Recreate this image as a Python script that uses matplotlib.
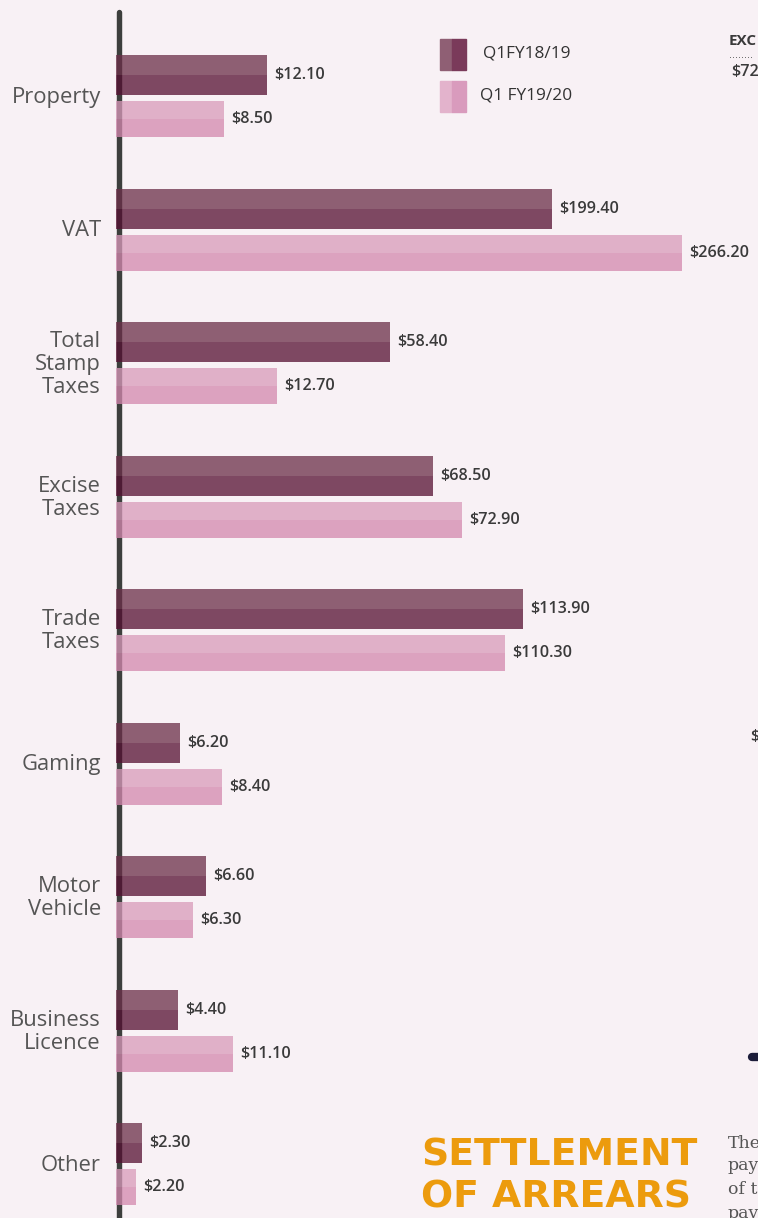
import numpy as np
import matplotlib
matplotlib.use("Agg")
import matplotlib.pyplot as plt
from matplotlib.patches import Rectangle

# data
categories = ["Property", "VAT", "Total\nStamp\nTaxes", "Excise\nTaxes", "Trade\nTaxes",
              "Gaming", "Motor\nVehicle", "Business\nLicence", "Other"]
q1_1819 = [12.10, 199.40, 58.40, 68.50, 113.90, 6.20, 6.60, 4.40, 2.30]
q1_1920 = [8.50, 266.20, 12.70, 72.90, 110.30, 8.40, 6.30, 11.10, 2.20]
series_labels = ["Q1FY18/19", "Q1 FY19/20"]

# the infographic does not draw bars to a linear scale; this is its display scale
scale_val = [-1000, 0, 2.2, 2.3, 4.4, 6.2, 6.3, 6.6, 8.4, 8.5, 11.1, 12.1, 12.7,
             58.4, 68.5, 72.9, 110.3, 113.9, 199.4, 266.2, 1000]
scale_px = [-1000, 0, 20, 26, 62, 64, 77, 90, 106, 108, 117, 151, 161,
            274, 317, 346, 389, 407, 436, 566, 1299.8]

BG = "#f8f1f5"
W, H = 758, 1218


def fwd(v):
    return np.interp(v, scale_val, scale_px)


def inv(p):
    return np.interp(p, scale_px, scale_val)


def fx(x):
    return x / W


def fy(y):
    return 1 - y / H


fig = plt.figure(figsize=(W / 100, H / 100), dpi=100)
fig.patch.set_facecolor(BG)
ax = fig.add_axes([0, 0, 1, 1])
ax.set_facecolor(BG)
ax.set_xscale("function", functions=(fwd, inv))
ax.set_xlim(inv(-116), inv(W - 116))

pitch = 133.5
top = 75.4
ax.set_ylim((H - top) / pitch, -top / pitch)
ax.axis("off")

# axis line behind the bars
ax.plot([fx(119.3), fx(119.3)], [fy(12), -0.01], transform=ax.transAxes,
        color="#3d3f3d", lw=3.9, solid_capstyle="round", zorder=1)

y = np.arange(len(categories))
h_dark = 40 / pitch
h_light = 36 / pitch
off_light = 44 / pitch

dark_cols = ("#6b2e48", "#551031")
light_cols = ("#d99aba", "#d388ae")

for vals, yc, hh, cols in [(q1_1819, y, h_dark, dark_cols),
                           (q1_1920, y + off_light, h_light, light_cols)]:
    ax.barh(yc - hh / 4, vals, height=hh / 2, left=0, color=cols[0], alpha=0.75,
            linewidth=0, zorder=2)
    ax.barh(yc + hh / 4, vals, height=hh / 2, left=0, color=cols[1], alpha=0.75,
            linewidth=0, zorder=2)
    for v, yy in zip(vals, yc):
        ax.annotate(f"${v:.2f}", xy=(v, yy), xytext=(7, 0), textcoords="offset pixels",
                    va="center", ha="left", fontsize=11.6, fontweight="semibold",
                    family="Open Sans", color="#3a3a3a")

for lab, yy in zip(categories, y + off_light / 2):
    ax.annotate(lab, xy=(0, yy), xytext=(-15, 0), textcoords="offset pixels",
                va="center", ha="right", multialignment="right", fontsize=15.8,
                family="Open Sans", color="#555555", linespacing=1.13)

# legend
leg = [((440, 39), "#8f5f74", "#7a3a5a", (483, 54)),
       ((440, 81), "#e3b3cc", "#d99bbd", (480, 96))]
for (lx, ly), c1, c2, (tx, ty) in leg:
    fig.add_artist(Rectangle((fx(lx), fy(ly + 31)), 12 / W, 31 / H, color=c1,
                             transform=fig.transFigure))
    fig.add_artist(Rectangle((fx(lx + 12), fy(ly + 31)), 14 / W, 31 / H, color=c2,
                             transform=fig.transFigure))
for (pos, c1, c2, (tx, ty)), lab in zip(leg, series_labels):
    fig.text(fx(tx), fy(ty), lab, va="center", ha="left", fontsize=12.4,
             family="Open Sans", color="#333333")

# cut-off pieces of the neighbouring panel
fig.text(fx(729), fy(41), "EXC", va="center", fontsize=11, fontweight="bold",
         family="Open Sans", color="#3a3a3a")
fig.text(fx(729), fy(55), "........", va="center", fontsize=7, color="#555555")
fig.text(fx(731), fy(72), "$72", va="center", fontsize=11.6, fontweight="semibold",
         family="Open Sans", color="#3a3a3a")
fig.text(fx(750), fy(737), "$", va="center", fontsize=11.6, fontweight="semibold",
         family="Open Sans", color="#3a3a3a")
fig.add_artist(plt.Line2D([fx(752), fx(762)], [fy(1057), fy(1057)], color="#1c1d3a",
                          lw=6, solid_capstyle="round", transform=fig.transFigure))

fig.text(fx(421), fy(1156), "SETTLEMENT", va="center", ha="left", fontsize=27.2,
         fontweight="heavy", family="DejaVu Sans", color="#ec9b0d")
fig.text(fx(421), fy(1197), "OF ARREARS", va="center", ha="left", fontsize=27.2,
         fontweight="heavy", family="DejaVu Sans", color="#ec9b0d")
for t, ty in zip(["The", "pay", "of t", "pay"], [1143, 1166, 1190, 1214]):
    fig.text(fx(728), fy(ty), t, va="center", ha="left", fontsize=12.5,
             family="DejaVu Serif", color="#555555")

fig.savefig("out.png", dpi=100, facecolor=BG)
